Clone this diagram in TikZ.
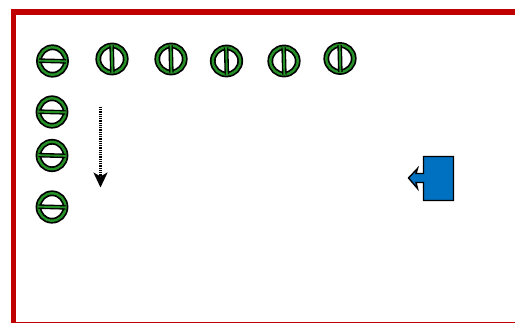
\documentclass[tikz,border=0pt]{standalone}
\usetikzlibrary{arrows.meta}
\definecolor{framered}{RGB}{192,0,0}
\definecolor{ringgreen}{RGB}{38,145,38}
\definecolor{shipblue}{RGB}{0,112,192}
\tikzset{
  px/.style={x=1pt,y=-1pt},
  sensor/.pic={
    \draw[line width=5.8pt,black] (0,0) ellipse[x radius=13.5,y radius=13.7];
    \draw[line width=2.4pt,ringgreen] (0,0) ellipse[x radius=13.5,y radius=13.7];
    \draw[line width=4.6pt,black] (-13.5,0) -- (13.5,0);
    \draw[line width=1.9pt,ringgreen] (-14,0) -- (14,0);
  }
}
\begin{document}
\begin{tikzpicture}[px]
\useasboundingbox (0,0) rectangle (515,323);
\fill[white] (0,0) rectangle (515,323);
\fill[framered] (10.5,9.5) rectangle (515,15);
\fill[framered] (10.5,9.5) rectangle (16,323);
\fill[framered] (10.5,322) rectangle (515,323);
\pic[rotate=-1.5] at (52.5,61) {sensor};
\pic[rotate=-1.5] at (52,112) {sensor};
\pic[rotate=-1.5] at (52,155.5) {sensor};
\pic[rotate=-1.5] at (52,207) {sensor};
\pic[rotate=91.5] at (112,59) {sensor};
\pic[rotate=91.5] at (171,59) {sensor};
\pic[rotate=91.5] at (226.5,61) {sensor};
\pic[rotate=91.5] at (284,61) {sensor};
\pic[rotate=91.5] at (340,58.5) {sensor};
\coordinate (arrowstart) at (100.5,107);
\coordinate (arrowend) at (100.5,187.5);
\draw[line width=2.2pt,dash pattern=on 1pt off 0.8pt,-{Stealth[length=15pt,width=14pt,inset=4pt]}] (arrowstart) -- (arrowend);
\draw[line width=1.4pt,fill=shipblue,line join=miter]
  (423.5,156.5) -- (453.5,156.5) -- (453.5,200.5) -- (423.5,200.5) -- (423.5,182.5) --
  (416,182.5) -- (417.5,188.5) -- (408.5,178) -- (417.5,168.5) -- (416,173.5) -- (423.5,173.5) -- cycle;
\end{tikzpicture}
\end{document}
